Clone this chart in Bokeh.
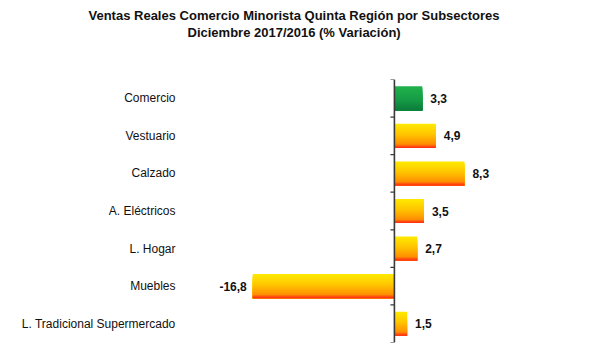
import numpy as np
from bokeh.plotting import figure
from bokeh.models import Span, FixedTicker, Title, ColumnDataSource, Range1d
from bokeh.core.properties import value
from bokeh.embed import file_html
from bokeh.resources import INLINE

# ---- data ----
categories = ["Comercio", "Vestuario", "Calzado", "A. Eléctricos", "L. Hogar",
              "Muebles", "L. Tradicional Supermercado"]
values = [3.3, 4.9, 8.3, 3.5, 2.7, -16.8, 1.5]
highlight = ["Comercio"]
title_line1 = "Ventas Reales Comercio Minorista Quinta Región por Subsectores"
title_line2 = "Diciembre  2017/2016 (% Variación)"

# ---- style ----
FONT = "Liberation Sans"
X_START, X_END = -23.0, 19.7
FRAME_W = 360
LEFT = 200
BAR_H = 0.64
N_SLICES = 24

def hex2rgb(h):
    h = h.lstrip("#")
    return np.array([int(h[i:i + 2], 16) for i in (0, 2, 4)], dtype=float)

def grad(stops, t):
    for (t0, c0), (t1, c1) in zip(stops[:-1], stops[1:]):
        if t0 <= t <= t1:
            f = (t - t0) / (t1 - t0) if t1 > t0 else 0
            c = hex2rgb(c0) * (1 - f) + hex2rgb(c1) * f
            return "#%02x%02x%02x" % tuple(int(round(v)) for v in c)
    return stops[-1][1]

orange_stops = [(0.0, "#FFEA00"), (0.45, "#FFC400"), (0.86, "#FF8C00"), (0.91, "#FF5A10"), (1.0, "#FF2A10")]
green_stops = [(0.0, "#22B24C"), (0.6, "#159A45"), (1.0, "#0C7A3A")]

n = len(categories)
pos = list(range(n))

p = figure(width=574, height=344, output_backend="svg", toolbar_location=None,
           x_range=Range1d(X_START, X_END), y_range=Range1d(n - 0.5, -0.5),
           min_border_left=LEFT, min_border_right=574 - LEFT - FRAME_W,
           min_border_top=79, min_border_bottom=2)
p.title.visible = False

# gradient bars: each slice spans from its top edge to the bar bottom, drawn top->bottom
ys, hs, rights, cols = [], [], [], []
for i, (cat, v) in enumerate(zip(categories, values)):
    stops = green_stops if cat in highlight else orange_stops
    top = pos[i] - BAR_H / 2
    bottom = pos[i] + BAR_H / 2
    for k in range(N_SLICES):
        t = (k + 0.5) / N_SLICES
        s_top = top + k * BAR_H / N_SLICES
        ys.append((s_top + bottom) / 2)
        hs.append(bottom - s_top)
        rights.append(v)
        cols.append(grad(stops, t))
src = ColumnDataSource(dict(y=ys, h=hs, right=rights, color=cols))
p.hbar(y="y", left=0, right="right", height="h", source=src,
       fill_color="color", line_color=None)

# zero axis line + tick marks at category boundaries
p.add_layout(Span(location=0, dimension="height", line_color="#3a3a3a", line_width=1.6))
px_per_unit = FRAME_W / (X_END - X_START)
bounds = [b - 0.5 for b in range(n + 1)]
p.segment(x0=[0] * len(bounds), x1=[-4 / px_per_unit] * len(bounds), y0=bounds, y1=bounds,
          line_color="#3a3a3a", line_width=1.2)

# value labels
labels = [("%.1f" % v).replace(".", ",") for v in values]
lsrc = ColumnDataSource(dict(
    x=values, y=pos, text=labels,
    align=["left" if v >= 0 else "right" for v in values],
    xoff=[8 if v >= 0 else -6 for v in values]))
p.text(x="x", y="y", text="text", source=lsrc, text_align="align", x_offset="xoff",
       text_baseline="middle", text_font=value(FONT), text_font_style="bold",
       text_font_size="12px", text_color="#111111")

# axes
p.xaxis.visible = False
p.xgrid.visible = False
p.ygrid.visible = False
p.outline_line_color = None
p.yaxis.ticker = FixedTicker(ticks=pos)
p.yaxis.major_label_overrides = {i: c for i, c in zip(pos, categories)}
p.yaxis.axis_line_color = None
p.yaxis.major_tick_line_color = None
p.yaxis.minor_tick_line_color = None
p.yaxis.major_label_standoff = 19
p.yaxis.major_label_text_font = FONT
p.yaxis.major_label_text_font_size = "12px"
p.yaxis.major_label_text_color = "#111111"

# titles (above list: first added is nearest the frame)
p.add_layout(Title(text=" ", text_font_size="34px", standoff=0), "above")
p.add_layout(Title(text=title_line2, align="left", offset=-13, standoff=0, text_font=FONT,
                   text_font_style="bold", text_font_size="13px", text_color="#111111"), "above")
p.add_layout(Title(text=title_line1, align="left", offset=-112, standoff=0, text_font=FONT,
                   text_font_style="bold", text_font_size="13px", text_color="#111111"), "above")

open("out.html", "w").write(file_html(p, INLINE))
